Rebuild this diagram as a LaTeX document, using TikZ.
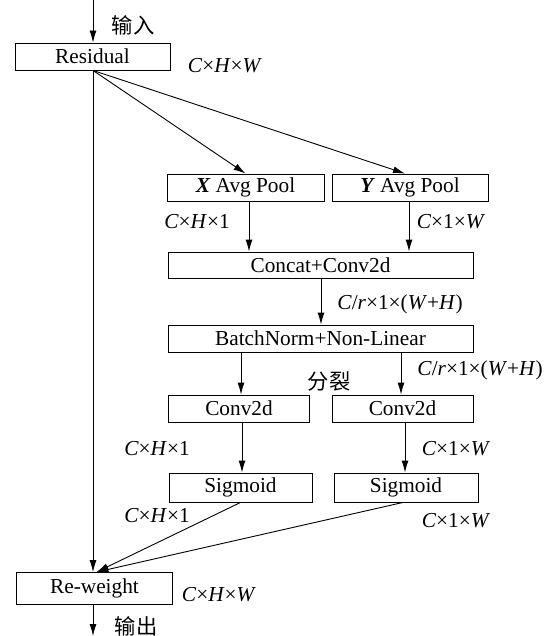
\documentclass[tikz,border=0pt]{standalone}
\usepackage{fontspec}
\setmainfont{Liberation Serif}
\newfontfamily\cjk{Noto Sans CJK SC}
\usetikzlibrary{arrows.meta}
\begin{document}
\begin{tikzpicture}[x=1pt,y=-1pt,
  font=\fontsize{21.3}{25}\selectfont,
  box/.style={draw,line width=0.9pt,inner sep=0pt,minimum height=27pt},
  lbl/.style={inner sep=0pt},
  arr/.style={line width=0.9pt,-{Latex[length=12pt,width=7pt]}},
  ln/.style={line width=0.9pt}]
\useasboundingbox (0,0) rectangle (554,636);
% boxes
\node[box,minimum width=155pt] (res) at (92.5,56.5) {Residual};
\node[box,minimum width=157pt] (xp) at (245.5,187.5) {\textbf{\textit{X}} Avg Pool};
\node[box,minimum width=156pt] (yp) at (410,187.5) {\textbf{\textit{Y}} Avg Pool};
\node[box,minimum width=305pt,minimum height=26pt] (cc) at (320.5,265) {Concat+Conv2d};
\node[box,minimum width=305pt] (bn) at (320.5,338.5) {BatchNorm+Non-Linear};
\node[box,minimum width=141pt] (c1) at (239,408.5) {Conv2d};
\node[box,minimum width=141pt] (c2) at (402.5,408.5) {Conv2d};
\node[box,minimum width=143pt,minimum height=29pt] (s1) at (240.5,487.5) {Sigmoid};
\node[box,minimum width=144pt,minimum height=29pt] (s2) at (406,487.5) {Sigmoid};
\node[box,minimum width=156pt,minimum height=32pt] (rw) at (94.5,588.5) {Re-weight};
% free ends
\coordinate (in) at (93,0);
\coordinate (out) at (93,636);
% connectors
\draw[arr] (in) -- (in |- res.north);
\draw[arr] ([xshift=0.5pt]res.south) -- (xp.north);
\draw[arr] ([xshift=0.5pt]res.south) -- ([xshift=-5pt]yp.north);
\draw[arr] ([xshift=3.5pt]xp.south) -- ([xshift=3.5pt]xp.south |- cc.north);
\draw[arr] ([xshift=-1pt]yp.south) -- ([xshift=-1pt]yp.south |- cc.north);
\draw[arr] ([xshift=0.5pt]cc.south) -- ([xshift=0.5pt]bn.north);
\draw[arr] ([xshift=2pt]c1.north |- bn.south) -- ([xshift=2pt]c1.north);
\draw[arr] ([xshift=-1.5pt]c2.north |- bn.south) -- ([xshift=-1.5pt]c2.north);
\draw[arr] ([xshift=3pt]c1.south) -- ([xshift=3pt]c1.south |- s1.north);
\draw[arr] ([xshift=2.5pt]c2.south) -- ([xshift=2.5pt]c2.south |- s2.north);
\draw[arr] ([xshift=0.5pt]res.south) -- ([xshift=0.5pt]res.south |- rw.north);
\draw[arr] (s1.south) -- ([xshift=2pt]rw.north);
\draw[arr] ([xshift=-3pt]s2.south) -- ([xshift=2pt]rw.north);
\draw[arr] (rw.south -| out) -- (out);
% labels
\node[lbl] (tin) at (133,25) {\cjk 输入};
\node[lbl] (l1) at (225,66) {\textit{C}×\textit{H}×\textit{W}};
\node[lbl] (l2) at (197,222) {\textit{C}×\textit{H}×1};
\node[lbl] (l3) at (451,222) {\textit{C}×1×\textit{W}};
\node[lbl] (l4) at (400,304) {\textit{C}/\textit{r}×1×(\textit{W}+\textit{H})};
\node[lbl] (l5) at (480,370) {\textit{C}/\textit{r}×1×(\textit{W}+\textit{H})};
\node[lbl] (split) at (329,381) {\cjk 分裂};
\node[lbl] (l6) at (157,448.5) {\textit{C}×\textit{H}×1};
\node[lbl] (l7) at (456,449) {\textit{C}×1×\textit{W}};
\node[lbl] (l8) at (157,515.5) {\textit{C}×\textit{H}×1};
\node[lbl] (l9) at (456,521) {\textit{C}×1×\textit{W}};
\node[lbl] (l10) at (219,595) {\textit{C}×\textit{H}×\textit{W}};
\node[lbl] (tout) at (136,626) {\cjk 输出};
\end{tikzpicture}
\end{document}
